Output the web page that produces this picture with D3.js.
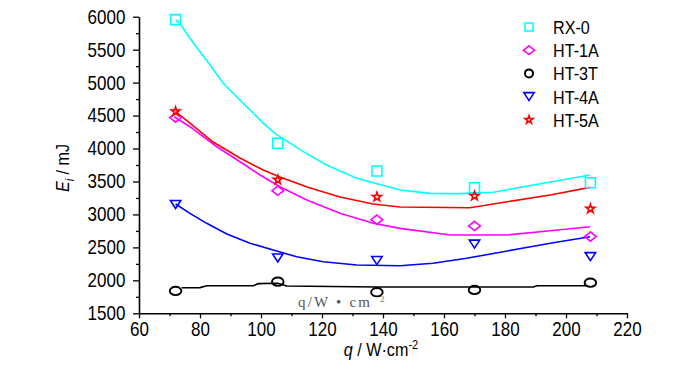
<!DOCTYPE html>
<html>
<head>
<meta charset="utf-8">
<script src="https://cdn.jsdelivr.net/npm/d3@7"></script>
<style>
  body { margin: 0; background: #fff; }
  text { font-family: "Liberation Sans", Arial, sans-serif; }
</style>
</head>
<body>
<div id="chart"></div>
<script>
// measured points (q in W/cm2, E in mJ)
var qValues = [72, 105.5, 138, 170, 208];
var seriesNames = ["RX-0", "HT-1A", "HT-3T", "HT-4A", "HT-5A"];
var seriesColors = ["#00ffff", "#ff00ff", "#000000", "#0000ff", "#ff0000"];
var seriesShapes = ["square", "diamond", "circle", "triangle", "star"];

var eRX0 = [5955, 4080, 3660, 3405, 3480];
var eHT1A = [4470, 3360, 2920, 2825, 2665];
var eHT3T = [1840, 1980, 1820, 1855, 1965];
var eHT4A = [3150, 2340, 2300, 2550, 2360];
var eHT5A = [4560, 3525, 3265, 3280, 3085];

// fitted curves
var fitRX0Q = [72, 73.4, 76.7, 80, 83.3, 87.6, 93.1, 96.4, 100.8, 105.1, 113.9, 121.5, 131.4, 145.6, 155.4, 165, 176.2, 189.3, 207.9];
var fitRX0E = [5950, 5900, 5672, 5468, 5267, 4990, 4736, 4584, 4382, 4210, 3952, 3750, 3548, 3370, 3320, 3315, 3336, 3446, 3598];
var fitHT1AQ = [71.5, 76.7, 85.5, 93.1, 99.7, 106.2, 115, 125.9, 136.8, 145.6, 162, 180.6, 194.8, 207.9];
var fitHT1AE = [4482, 4331, 4027, 3800, 3598, 3421, 3219, 3017, 2865, 2789, 2688, 2688, 2753, 2814];
var fitHT3TQ = [74, 80, 82.2, 97.5, 99.1, 105.5, 108.4, 138, 189.3, 190.5, 206.8];
var fitHT3TE = [1888, 1890, 1919, 1919, 1950, 1955, 1914, 1900, 1900, 1919, 1919];
var fitHT4AQ = [72, 76.7, 82.2, 88.8, 96.4, 104, 111.7, 120.4, 131.4, 145.6, 156.4, 167.4, 183.8, 195.8, 207.9];
var fitHT4AE = [3158, 3017, 2865, 2703, 2562, 2460, 2359, 2283, 2233, 2222, 2259, 2334, 2471, 2571, 2662];
var fitHT5AQ = [72, 76.7, 84.3, 93.1, 100.7, 106.2, 115.1, 125.9, 136.7, 145.6, 168.5, 180.7, 194.8, 207.9];
var fitHT5AE = [4558, 4387, 4099, 3856, 3674, 3568, 3416, 3264, 3158, 3113, 3102, 3193, 3295, 3411];

var xTicks = [60, 80, 100, 120, 140, 160, 180, 200, 220];
var xMinorTicks = [70, 90, 110, 130, 150, 170, 190, 210];
var yTicks = [1500, 2000, 2500, 3000, 3500, 4000, 4500, 5000, 5500, 6000];
var yMinorTicks = [1750, 2250, 2750, 3250, 3750, 4250, 4750, 5250, 5750];

var pointSets = [eRX0, eHT1A, eHT3T, eHT4A, eHT5A];
var fitQ = [fitRX0Q, fitHT1AQ, fitHT3TQ, fitHT4AQ, fitHT5AQ];
var fitE = [fitRX0E, fitHT1AE, fitHT3TE, fitHT4AE, fitHT5AE];

var margin = {top: 16.7, right: 73, bottom: 59.7, left: 139};
var W = 700, H = 373;
var width = W - margin.left - margin.right;
var height = H - margin.top - margin.bottom;
var squeeze = "scale(0.85,1)";   // the original type is condensed

var svg = d3.select("#chart").append("svg")
    .attr("width", W)
    .attr("height", H);

var g = svg.append("g")
    .attr("transform", "translate(" + margin.left + "," + margin.top + ")");

var x = d3.scaleLinear().domain([60, 220]).range([0, width]);
var y = d3.scaleLinear().domain([1500, 6000]).range([height, 0]);

// marker shapes
function markerPath(shape, s) {
  var p = d3.path();
  if (shape == "square") {
    p.rect(-s / 2, -s / 2, s, s);
    return p.toString();
  }
  if (shape == "diamond") {
    var w = s * 0.56, h = s * 0.44;
    p.moveTo(0, -h); p.lineTo(w, 0); p.lineTo(0, h); p.lineTo(-w, 0); p.closePath();
    return p.toString();
  }
  if (shape == "triangle") {
    var tw = s * 0.52, th = s * 0.4;
    p.moveTo(-tw, -th); p.lineTo(tw, -th); p.lineTo(0, th); p.closePath();
    return p.toString();
  }
  if (shape == "star") {
    return d3.symbol(d3.symbolStar, s * s * 0.3)();
  }
  // circle, drawn a little wider than tall
  return "M" + (-s * 0.55) + ",0a" + (s * 0.55) + "," + (s * 0.4) + " 0 1,0 " + (s * 1.1) + ",0" +
         "a" + (s * 0.55) + "," + (s * 0.4) + " 0 1,0 " + (-s * 1.1) + ",0Z";
}

// fit curves
var line = d3.line()
    .x(function(d) { return x(d[0]); })
    .y(function(d) { return y(d[1]); });

for (var i = 0; i < seriesNames.length; i++) {
  var pts = d3.zip(fitQ[i], fitE[i]);
  g.append("path")
      .datum(pts)
      .attr("d", line)
      .attr("fill", "none")
      .attr("stroke", seriesColors[i])
      .attr("stroke-width", 1.6);
}

// stray caption left inside the plot
g.append("text")
    .attr("x", 298 - margin.left)
    .attr("y", 307 - margin.top)
    .attr("textLength", 72)
    .attr("lengthAdjust", "spacing")
    .style("font-family", "'Liberation Serif', 'DejaVu Serif', serif")
    .style("font-size", "15px")
    .attr("fill", "#555")
    .text("q/W \u2022 cm");
g.append("text")
    .attr("x", 380 - margin.left)
    .attr("y", 302 - margin.top)
    .style("font-family", "'Liberation Serif', 'DejaVu Serif', serif")
    .style("font-size", "9px")
    .attr("fill", "#777")
    .text("2");

// markers
var sizes = {square: 10, diamond: 10.5, circle: 10.5, triangle: 10, star: 9};
for (var j = 0; j < seriesNames.length; j++) {
  g.selectAll(".m" + j)
    .data(d3.zip(qValues, pointSets[j]))
    .enter().append("path")
      .attr("class", "m" + j)
      .attr("transform", function(d) { return "translate(" + x(d[0]) + "," + y(d[1]) + ")"; })
      .attr("d", markerPath(seriesShapes[j], sizes[seriesShapes[j]]))
      .attr("fill", "none")
      .attr("stroke", seriesColors[j])
      .attr("stroke-width", seriesShapes[j] == "circle" ? 1.9 : 1.6);
}

// axes
g.append("g")
    .attr("transform", "translate(0," + height + ")")
    .call(d3.axisBottom(x).tickValues(xTicks).tickSize(5).tickSizeOuter(0).tickPadding(4).tickFormat(d3.format("d")));
g.append("g")
    .attr("transform", "translate(0," + height + ")")
    .call(d3.axisBottom(x).tickValues(xMinorTicks).tickSize(3).tickFormat(""))
    .select(".domain").remove();
g.append("g")
    .call(d3.axisLeft(y).tickValues(yTicks).tickSize(6).tickSizeOuter(0).tickPadding(10).tickFormat(d3.format("d")));
g.append("g")
    .call(d3.axisLeft(y).tickValues(yMinorTicks).tickSize(3).tickFormat(""))
    .select(".domain").remove();

g.selectAll(".domain").attr("stroke", "#000").attr("stroke-width", 1.6);
g.selectAll(".tick line").attr("stroke", "#000").attr("stroke-width", 1.3);
g.selectAll(".tick text")
    .style("font-family", "'Liberation Sans', Arial, sans-serif")
    .style("font-size", "20px")
    .attr("transform", squeeze)
    .attr("fill", "#000");

// axis titles
var xt = svg.append("text")
    .attr("transform", "translate(381,356) " + squeeze)
    .attr("text-anchor", "middle")
    .style("font-size", "19px");
xt.append("tspan").style("font-style", "italic").text("q");
xt.append("tspan").text(" / W\u00b7cm");
xt.append("tspan").attr("dy", -7).style("font-size", "13px").text("-2");

var yt = svg.append("text")
    .attr("transform", "translate(69,168) rotate(-90) " + squeeze)
    .attr("text-anchor", "middle")
    .style("font-size", "19px");
yt.append("tspan").style("font-style", "italic").text("E");
yt.append("tspan").attr("dy", 5).style("font-style", "italic").style("font-size", "13px").text("i");
yt.append("tspan").attr("dy", -5).text(" / mJ");

// legend
var legend = svg.append("g");
var legendSizes = {square: 8, diamond: 10, circle: 8, triangle: 10, star: 8};
for (var k = 0; k < seriesNames.length; k++) {
  var ly = 27 + k * 23.2;
  var shape = seriesShapes[k];
  var lp = legend.append("path")
      .attr("transform", "translate(529," + ly + ")")
      .attr("fill", "none")
      .attr("stroke", seriesColors[k])
      .attr("stroke-width", 1.6);
  if (shape == "circle") {
    lp.attr("d", "M-4,0a4,4 0 1,0 8,0a4,4 0 1,0 -8,0Z").attr("stroke-width", 2);
  } else {
    lp.attr("d", markerPath(shape, legendSizes[shape]));
  }
  legend.append("text")
      .attr("transform", "translate(553," + (ly + 7) + ") " + squeeze)
      .style("font-size", "19px")
      .text(seriesNames[k]);
}
</script>
</body>
</html>
